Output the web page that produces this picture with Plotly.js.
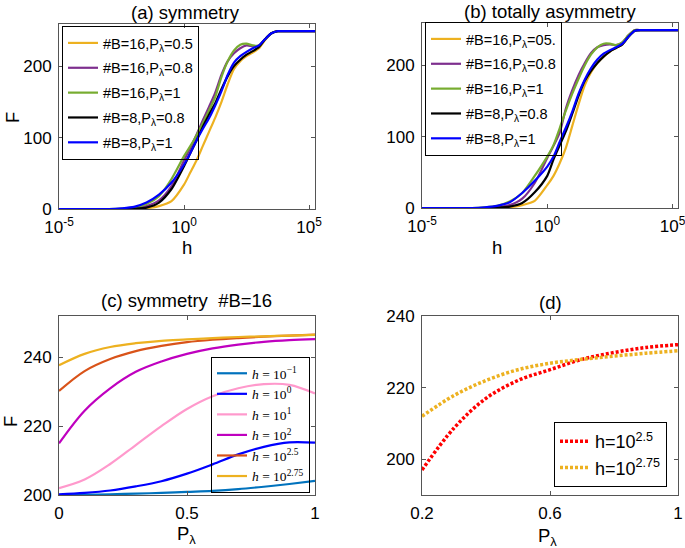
<!DOCTYPE html>
<html>
<head>
<meta charset="utf-8">
<script src="https://cdn.plot.ly/plotly-3.0.1.min.js"></script>
<style>html,body{margin:0;padding:0;background:#fff;}#plot{width:685px;height:548px;}</style>
</head>
<body>
<div id="plot"></div>
<script>
// ---------- Panel (a) symmetry: exponents of h and F ----------
const logH = [-5, -3, -2.5, -2, -1.5, -1, -0.5, 0, 0.25, 0.5, 0.75, 1, 1.25, 1.5, 1.75, 2, 2.25, 2.5, 2.75, 3, 3.25, 3.5, 3.75, 4, 5.25];
const a_B16_P05 = [0, 0, 0, 0, 1, 4, 11, 34, 51, 68, 88, 108, 128, 150, 175, 196, 207, 214, 219, 225, 237, 246, 249, 249, 249];
const a_B16_P08 = [0, 0, 0, 1, 4, 12, 32, 68, 85, 104, 124, 143, 163, 188, 207, 218, 225, 229, 228, 229, 238, 246, 249, 249, 249];
const a_B16_P1  = [0, 0, 0.5, 2, 7, 18, 42, 74, 88, 103, 120, 138, 157, 185, 207, 222, 230, 231.5, 229, 229, 238, 246, 249, 249, 249];
const a_B8_P08  = [0, 0, 0, 0.5, 2, 9, 28, 60, 78, 96, 115, 132, 148, 168, 186, 200, 209, 216, 221, 227, 238, 246, 249, 249, 249];
const a_B8_P1   = [0, 0, 1, 3, 9, 20, 37, 62, 78, 96, 112, 127, 145, 165, 188, 205, 214, 220, 225, 229, 238, 246, 249, 249, 249];

// ---------- Panel (b) totally asymmetry ----------
const b_B16_P05 = [0, 0, 0, 0, 1, 4, 10, 32, 45, 63, 85, 115, 145, 172, 190, 203, 212, 219, 224, 229, 240, 248, 249, 249, 249];
const b_B16_P08 = [0, 0, 0, 1, 4, 13, 35, 70, 87, 106, 140, 165, 186, 203, 217, 225, 228, 229, 228, 232, 242, 249, 249, 249, 249];
const b_B16_P1  = [0, 0, 1, 3, 9, 21, 45, 72, 88, 112, 137, 160, 181, 200, 215, 225, 230, 230, 228, 232, 242, 249, 249, 249, 249];
const b_B8_P08  = [0, 0, 0, 0.5, 2, 7, 22, 45, 68, 88, 108, 132, 157, 178, 192, 203, 212, 219, 224, 229, 240, 248, 249, 249, 249];
const b_B8_P1   = [0, 0, 1, 3, 8, 21, 38, 58, 72, 93, 113, 135, 160, 180, 196, 208, 216, 221, 225, 230, 240, 248, 249, 249, 249];

const seriesNamesA = ['#B=16,P<sub>λ</sub>=0.5', '#B=16,P<sub>λ</sub>=0.8', '#B=16,P<sub>λ</sub>=1', '#B=8,P<sub>λ</sub>=0.8', '#B=8,P<sub>λ</sub>=1'];
const seriesNamesB = ['#B=16,P<sub>λ</sub>=05.', '#B=16,P<sub>λ</sub>=0.8', '#B=16,P<sub>λ</sub>=1', '#B=8,P<sub>λ</sub>=0.8', '#B=8,P<sub>λ</sub>=1'];

// ---------- Panel (c) symmetry #B=16 ----------
const Pc = [0, 0.1, 0.2, 0.3, 0.4, 0.5, 0.6, 0.7, 0.8, 0.9, 1.0];
const c_h_m1   = [200.0, 200.1, 200.2, 200.4, 200.6, 200.9, 201.2, 201.7, 202.4, 203.2, 204.1];
const c_h_0    = [200.2, 200.6, 201.3, 202.5, 204.0, 206.2, 208.9, 211.8, 214.0, 215.3, 215.2];
const c_h_1    = [202.0, 204.5, 209.0, 214.5, 220.0, 225.0, 228.7, 231.0, 232.2, 232.0, 229.5];
const c_h_2    = [215.0, 224.5, 231.0, 235.8, 238.8, 241.0, 242.6, 243.7, 244.5, 245.0, 245.3];
const c_h_25   = [230.2, 236.0, 239.5, 241.8, 243.3, 244.4, 245.1, 245.6, 246.0, 246.3, 246.6];
const c_h_275  = [237.7, 241.0, 243.0, 244.1, 244.8, 245.2, 245.6, 245.9, 246.1, 246.3, 246.5];
const namesC = ['<i>h</i> = 10<sup>−1</sup>', '<i>h</i> = 10<sup>0</sup>', '<i>h</i> = 10<sup>1</sup>', '<i>h</i> = 10<sup>2</sup>', '<i>h</i> = 10<sup>2.5</sup>', '<i>h</i> = 10<sup>2.75</sup>'];

// ---------- Panel (d) ----------
const Pd = [0.2, 0.3, 0.4, 0.5, 0.6, 0.7, 0.8, 0.9, 1.0];
const d_h_25  = [197.0, 208.7, 217.0, 222.0, 225.0, 227.9, 229.8, 231.2, 232.0];
const d_h_275 = [212.0, 217.8, 222.0, 225.0, 226.8, 227.9, 228.8, 229.6, 230.3];
const namesD = ['h=10<sup>2.5</sup>', 'h=10<sup>2.75</sup>'];

const colAB = ['#EDB120', '#7E2F8E', '#77AC30', '#000000', '#0000FF'];
const colC = ['#0072BD', '#0000FF', '#FF99CC', '#BF00BF', '#D95319', '#EDB120'];
const colD = ['#FF0000', '#EDB120'];

const hVals = logH.map(e => Math.pow(10, e));
const traces = [];
const aData = [a_B16_P05, a_B16_P08, a_B16_P1, a_B8_P08, a_B8_P1];
const bData = [b_B16_P05, b_B16_P08, b_B16_P1, b_B8_P08, b_B8_P1];
aData.forEach((ys, i) => traces.push({x: hVals, y: ys, xaxis: 'x', yaxis: 'y', mode: 'lines', name: seriesNamesA[i], legendgroup: 'a' + i,
  line: {color: colAB[i], width: 2.2, shape: 'spline', smoothing: 0.7}, legend: 'legend'}));
bData.forEach((ys, i) => traces.push({x: hVals, y: ys, xaxis: 'x2', yaxis: 'y2', mode: 'lines', name: seriesNamesB[i], legendgroup: 'b' + i,
  line: {color: colAB[i], width: 2.2, shape: 'spline', smoothing: 0.7}, legend: 'legend2'}));
[c_h_m1, c_h_0, c_h_1, c_h_2, c_h_25, c_h_275].forEach((ys, i) => traces.push({x: Pc, y: ys, xaxis: 'x3', yaxis: 'y3', mode: 'lines', name: namesC[i], legendgroup: 'c' + i,
  line: {color: colC[i], width: 2.2, shape: 'spline'}, legend: 'legend3'}));
[d_h_25, d_h_275].forEach((ys, i) => traces.push({x: Pd, y: ys, xaxis: 'x4', yaxis: 'y4', mode: 'lines', name: namesD[i], legendgroup: 'd' + i,
  line: {color: colD[i], width: 3.5, dash: '3px,2px', shape: 'spline'}, legend: 'legend4'}));

const W = 685, H = 548;
const px = v => v / W, py = v => 1 - v / H;
const FAM = 'Liberation Sans, Arial, sans-serif';
const font = {family: FAM, size: 17, color: '#000'};
const axBase = {showgrid: false, zeroline: false, showline: true, linecolor: '#555', linewidth: 1, mirror: 'ticks',
  ticks: 'inside', ticklen: 4, tickcolor: '#555', tickfont: {family: FAM, size: 17, color: '#000'}, ticklabeloverflow: 'allow'};
const xBase = Object.assign({}, axBase, {ticklabelstandoff: 3});
const yBase = Object.assign({}, axBase, {ticklabelstandoff: 3});

const logTicks = {tickvals: [1e-5, 1, 1e5], ticktext: ['10<sup>-5</sup>', '10<sup>0</sup>', '10<sup>5</sup>']};
const legBase = {bgcolor: 'rgba(0,0,0,0)', bordercolor: '#000', borderwidth: 1, xanchor: 'left', yanchor: 'top',
  font: {family: FAM, size: 14.5, color: '#000'}, traceorder: 'grouped', tracegroupgap: 3, itemwidth: 30};

const layout = {
  width: W, height: H, margin: {l: 0, r: 0, t: 0, b: 0}, paper_bgcolor: '#fff', plot_bgcolor: '#fff', font: font,
  showlegend: true,
  xaxis: Object.assign({}, xBase, logTicks, {type: 'log', range: [-5, 5.24], domain: [px(59), px(315)], anchor: 'y'}),
  yaxis: Object.assign({}, yBase, {range: [0, 259], tickvals: [0, 100, 200], domain: [py(209), py(24)], anchor: 'x'}),
  xaxis2: Object.assign({}, xBase, logTicks, {type: 'log', range: [-5, 5.22], domain: [px(422), px(678)], anchor: 'y2'}),
  yaxis2: Object.assign({}, yBase, {range: [0, 259], tickvals: [0, 100, 200], domain: [py(208), py(23)], anchor: 'x2'}),
  xaxis3: Object.assign({}, xBase, {range: [0, 1], tickvals: [0, 0.5, 1], domain: [px(59), px(315)], anchor: 'y3'}),
  yaxis3: Object.assign({}, yBase, {range: [200, 252], tickvals: [200, 220, 240], domain: [py(495), py(316)], anchor: 'x3'}),
  xaxis4: Object.assign({}, xBase, {range: [0.2, 1], tickvals: [0.2, 0.6, 1], domain: [px(422), px(678)], anchor: 'y4'}),
  yaxis4: Object.assign({}, yBase, {range: [190, 240], tickvals: [200, 220, 240], domain: [py(495), py(316)], anchor: 'x4'}),
  legend: Object.assign({}, legBase, {x: px(62), y: py(26)}),
  legend2: Object.assign({}, legBase, {x: px(425), y: py(22)}),
  legend3: Object.assign({}, legBase, {x: px(211), y: py(357), tracegroupgap: 0, font: {family: 'Liberation Serif, Times New Roman, serif', size: 13.5, color: '#000'}}),
  legend4: Object.assign({}, legBase, {x: px(554), y: py(422), tracegroupgap: 0, font: {family: FAM, size: 18, color: '#000'}}),
  annotations: [
    {text: '(a) symmetry', x: px(185), y: py(13)},
    {text: '(b) totally asymmetry', x: px(550), y: py(12)},
    {text: '(c) symmetry  #B=16', x: px(187), y: py(300)},
    {text: '(d)', x: px(550), y: py(302)},
    {text: 'F', x: px(12), y: py(118), textangle: -90},
    {text: 'F', x: px(10), y: py(422), textangle: -90},
    {text: 'h', x: px(187), y: py(247)},
    {text: 'h', x: px(497), y: py(247)},
    {text: 'P<sub>λ</sub>', x: px(187), y: py(535)},
    {text: 'P<sub>λ</sub>', x: px(547), y: py(537)}
  ].map(a => Object.assign({xref: 'paper', yref: 'paper', showarrow: false, xanchor: 'center', yanchor: 'middle',
    font: {family: FAM, size: 18.5, color: '#000'}}, a))
};

Plotly.newPlot('plot', traces, layout, {displayModeBar: false, staticPlot: true});
</script>
</body>
</html>
